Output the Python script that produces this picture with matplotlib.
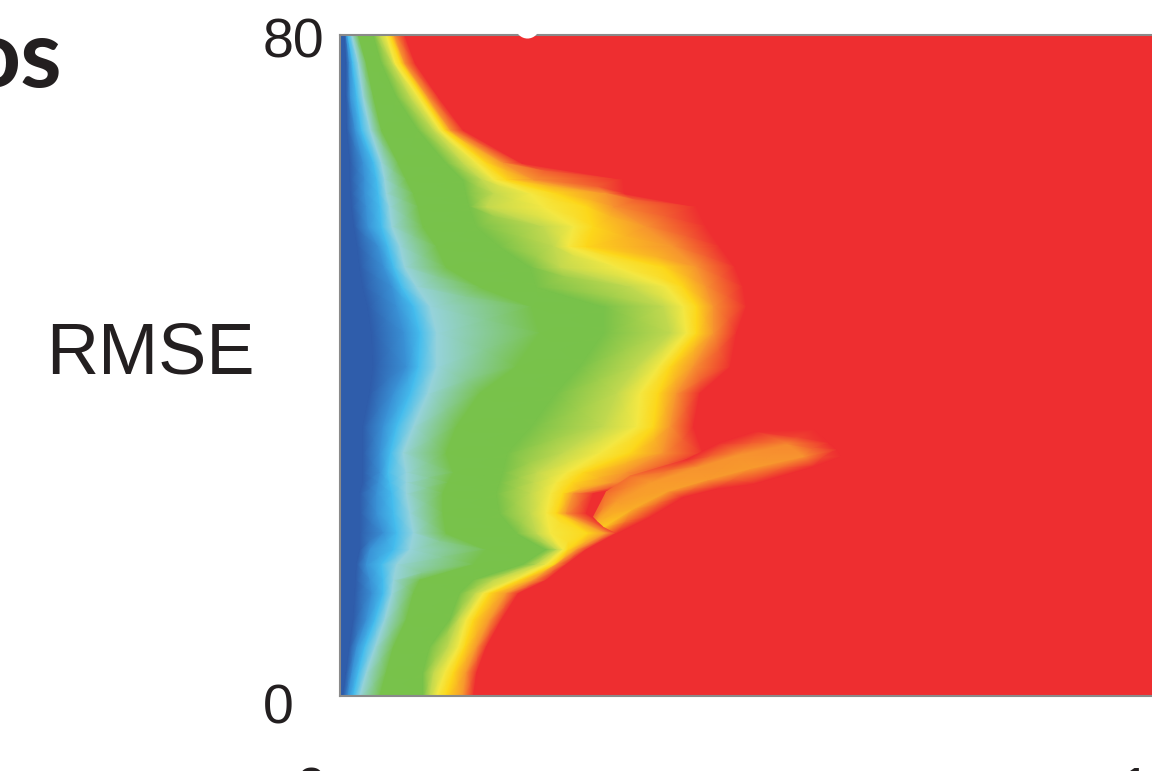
import numpy as np
import matplotlib
matplotlib.use("Agg")
import matplotlib.pyplot as plt
from matplotlib.colors import LinearSegmentedColormap

# RMSE rows, and where each colour level sits along x on that row
rmse_rows = [80, 76.6, 72.5, 68.5, 64.5, 62.5, 60.8, 59.2, 56.8, 54.4, 51.9, 49.5, 47.1, 43.9, 39.8, 36.6,
             32.6, 29.4, 27.0, 25.8, 24.5, 22.1, 19.7, 17.7, 15.9, 14.0, 12.4, 9.2, 5.9, 2.8, 0]
dark_blue_x = [0.6, 0.8, 0.8, 0.9, 1.3, 1.3, 1.4, 1.5, 1.8, 2.2, 2.5, 2.9, 3.5, 4.0, 4.2, 3.75,
               2.9, 2.9, 2.9, 2.9, 2.5, 2.5, 2.5, 2.5, 2.1, 2.0, 1.9, 1.7, 1.2, 0.8, 0.4]
mid_blue_x = [0.8, 1.2, 1.3, 1.9, 2.9, 3.1, 3.1, 3.3, 3.5, 4.8, 5.5, 6.5, 7.1, 8.0, 8.3, 6.7,
              5.4, 5.0, 5.0, 4.8, 4.6, 4.6, 5.4, 3.75, 3.3, 3.75, 4.0, 3.3, 2.1, 1.5, 1.0]
bright_blue_x = [1.0, 1.6, 2.1, 2.7, 4.2, 4.6, 4.8, 5.0, 5.2, 6.0, 6.7, 7.7, 9.2, 10.0, 9.8, 8.8,
                 7.1, 6.3, 6.0, 6.2, 6.5, 6.7, 7.1, 6.7, 5.2, 5.4, 5.4, 4.4, 3.1, 2.3, 1.7]
pale_blue_x = [1.5, 2.3, 2.9, 3.8, 5.2, 5.6, 5.8, 6.2, 6.5, 7.5, 8.1, 9.6, 11.3, 12.1, 12.1, 11.0,
               9.2, 7.9, 8.3, 8.3, 8.3, 8.75, 9.2, 8.75, 7.1, 6.7, 6.5, 5.6, 4.4, 3.3, 2.5]
green_start_x = [2.3, 3.3, 4.2, 5.2, 7.3, 8.3, 9.2, 9.8, 10.4, 12.1, 13.3, 17.5, 24.0, 25.0, 22.0, 17.5,
                 14.6, 13.3, 14.2, 13.5, 12.9, 12.9, 13.3, 18.3, 16.7, 10.0, 9.2, 8.3, 6.7, 5.8, 5.0]
green_end_x = [4.2, 5.2, 7.1, 9.8, 13.3, 15.4, 15.8, 16.2, 17.1, 20.0, 23.8, 24.6, 33.0, 33.0, 30.0, 27.0,
               24.0, 21.0, 20.4, 20.0, 19.6, 20.0, 22.1, 25.8, 22.9, 16.7, 15.0, 13.75, 11.25, 10.4, 10.4]
lime_x = [5.0, 6.5, 8.8, 11.7, 15.4, 17.7, 19.2, 18.3, 25.4, 26.7, 27.5, 36.3, 40.4, 41.3, 37.1, 34.6,
          32.9, 27.9, 24.6, 24.2, 23.8, 23.8, 24.6, 27.1, 24.6, 19.2, 16.9, 14.8, 13.5, 11.7, 11.25]
yellow_x = [5.8, 6.9, 9.8, 12.5, 17.1, 19.2, 23.8, 25.4, 29.2, 28.5, 34.6, 40.8, 42.9, 43.3, 39.8, 37.5,
            37.1, 32.5, 28.3, 27.0, 26.3, 25.8, 26.3, 27.9, 25.8, 21.7, 17.9, 15.8, 14.8, 13.1, 12.1]
gold_x = [6.3, 7.6, 10.4, 13.1, 18.3, 20.8, 27.1, 30.8, 31.7, 30.8, 40.4, 42.9, 44.6, 44.6, 41.3, 39.8,
          39.2, 36.3, 30.4, 29.0, 27.9, 27.1, 31.0, 28.5, 26.7, 22.5, 18.75, 16.7, 15.6, 14.2, 13.3]
orange_x = [6.8, 8.1, 11.0, 13.8, 20.4, 24.2, 33.3, 34.2, 38.3, 41.7, 44.6, 45.8, 46.7, 46.7, 44.2, 42.1,
            41.3, 40.4, 35.8, 34.0, 29.2, 28.3, 33.3, 29.6, 27.1, 24.2, 20.8, 18.75, 17.1, 15.8, 15.4]
red_x = [8.1, 9.4, 12.3, 15.4, 22.7, 35.4, 35.6, 44.6, 45.8, 47.5, 49.4, 50.4, 50.8, 49.6, 48.8, 45.0,
         44.2, 45.4, 42.9, 39.0, 31.7, 30.8, 34.6, 30.8, 28.3, 25.8, 22.3, 20.2, 18.3, 17.1, 16.7]

# the streak near RMSE 25: lower edge, two inner lines, upper edge
streak_low_x = [34.6, 38.75, 42.9, 47.1, 51.7, 59.2, 62.5]
streak_low_rmse = [19.7, 21.7, 24.1, 25.1, 25.7, 27.8, 29.0]
streak_in1_x = [33.0, 36.5, 41.0, 46.0, 51.5, 58.0, 62.0]
streak_in1_rmse = [20.5, 22.6, 24.8, 26.2, 27.6, 29.0, 29.8]
streak_in1_level = [8.2, 8.6, 8.8, 8.9, 8.9, 9, 10]
streak_in2_x = [32.2, 34.6, 39.0, 44.7, 49.8, 56.0, 61.0]
streak_in2_rmse = [21.2, 23.6, 25.9, 27.7, 29.2, 30.5, 30.6]
streak_in2_level = [8.6, 8.9, 8.9, 9, 9, 9.1, 10]
streak_top_x = [31.7, 33.3, 36.25, 43.3, 47.5, 52.1, 59.2]
streak_top_rmse = [21.7, 24.7, 26.6, 28.6, 30.6, 32.0, 32.2]
streak_top_level = [9.4, 9.4, 9.3, 10, 10, 10, 10]

level_colors = ["#2f5dab", "#3a92d6", "#45bdee", "#96d3dc", "#78c24a", "#78c24a",
                "#c2d94f", "#f4e843", "#fdd71a", "#f7932f", "#ee2e30"]

W, H = 1152, 771
x_right = 101.5

fig = plt.figure(figsize=(W / 100, H / 100), dpi=100)
ax = fig.add_axes([340 / W, 1 - 696 / H, 812 / W, 661 / H])

cmap = LinearSegmentedColormap.from_list("rmse", level_colors, N=512)

# one column per level, from the axis out to the right edge
n = len(rmse_rows)
X = np.column_stack([np.zeros(n), dark_blue_x, mid_blue_x, bright_blue_x, pale_blue_x, green_start_x,
                     green_end_x, lime_x, yellow_x, gold_x, orange_x, red_x, np.full(n, x_right)])
Y = np.tile(np.array(rmse_rows)[:, None], (1, X.shape[1]))
C = np.tile([0, 0, 1, 2, 3, 4, 5, 6, 7, 8, 9, 10, 10], (n, 1))
ax.pcolormesh(X, Y, C, shading="gouraud", cmap=cmap, vmin=0, vmax=10)

m = len(streak_low_x)
SX = np.column_stack([streak_low_x, streak_in1_x, streak_in2_x, streak_top_x])
SY = np.column_stack([streak_low_rmse, streak_in1_rmse, streak_in2_rmse, streak_top_rmse])
SC = np.column_stack([np.full(m, 10), streak_in1_level, streak_in2_level, streak_top_level])
ax.pcolormesh(SX, SY, SC, shading="gouraud", cmap=cmap, vmin=0, vmax=10)

ax.set_xlim(0, x_right)
ax.set_ylim(0, 80)
ax.set_xticks([])
ax.set_yticks([])
for s in ["left", "top", "bottom"]:
    ax.spines[s].set_color("#8a8a8a")
    ax.spines[s].set_linewidth(1.5)
ax.spines["right"].set_visible(False)

# white dot cut by the top edge
ax.scatter([23.4], [81.1], s=300, color="white", clip_on=False, zorder=5, linewidths=0)

sans = "Liberation Sans"
ink = "#231f20"
def label(txt, px, py, size, ha="center", **kw):
    fig.text(px / W, 1 - py / H, txt, fontsize=size, ha=ha, va="center", color=ink, **kw)

label("80", 293, 44, 40, family=sans)
label("0", 278, 710, 40, family=sans)
label("RMSE", 150, 355, 52, family=sans)
label("0", 311, 793, 40, family=sans)
label("100", 1120, 793, 40, ha="left", family=sans)
label("os", 62, 60, 68, ha="right", family="Lato", weight="bold")

fig.savefig("out.png", dpi=100)
